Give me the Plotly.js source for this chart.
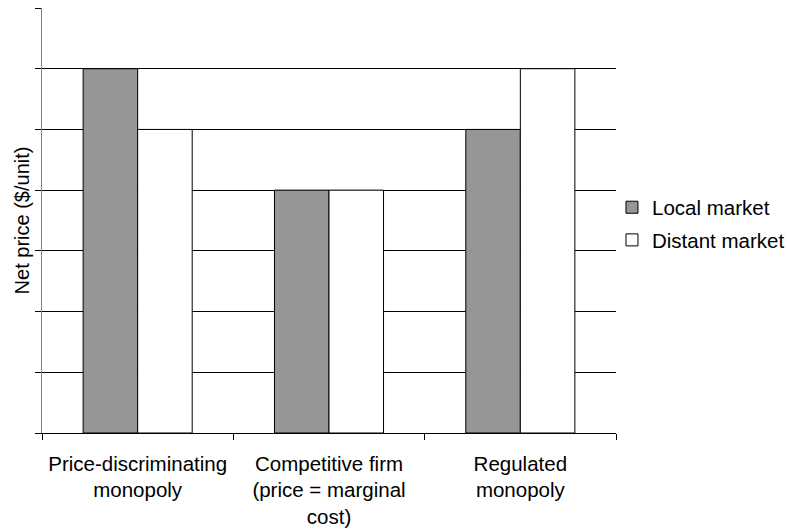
<!DOCTYPE html>
<html><head><meta charset="utf-8">
<script src="https://cdn.plot.ly/plotly-3.0.1.min.js"></script>
<style>html,body{margin:0;padding:0;background:#fff;}#chart{width:788px;height:529px;}</style>
</head><body><div id="chart"></div>
<script>
const categories = ["Price-discriminating<br>monopoly", "Competitive firm<br>(price = marginal<br>cost)", "Regulated<br>monopoly"];
const localValues = [6, 4, 5];
const distantValues = [5, 4, 6];
const seriesNames = ["Local market", "Distant market"];

const font = {family: "Liberation Sans, Arial, sans-serif", size: 20.5, color: "#000"};
const traces = [
  {type: "bar", name: seriesNames[0], x: categories, y: localValues, legendgroup: "a",
   marker: {color: "#969696", line: {color: "#000", width: 1}}},
  {type: "bar", name: seriesNames[1], x: categories, y: distantValues, legendgroup: "b",
   marker: {color: "#ffffff", line: {color: "#000", width: 1}}}
];
const layout = {
  width: 788, height: 529,
  margin: {l: 42, r: 172, t: 8, b: 96, autoexpand: false},
  paper_bgcolor: "#fff", plot_bgcolor: "#fff",
  font: font,
  barmode: "group", bargap: 0.43, bargroupgap: 0,
  showlegend: true,
  legend: {x: 0.993, y: 0.492, xanchor: "left", yanchor: "middle", font: font,
           bgcolor: "rgba(0,0,0,0)", itemwidth: 30, traceorder: "grouped", tracegroupgap: 3},
  xaxis: {type: "category", tickson: "boundaries", ticks: "outside", ticklen: 6,
          tickcolor: "#000", showline: true, linecolor: "#000", linewidth: 1,
          showgrid: false, tickfont: font, ticklabelstandoff: 12, fixedrange: true},
  yaxis: {range: [0, 7], dtick: 1, showticklabels: false, ticks: "outside", ticklen: 6,
          tickcolor: "#000", showline: true, linecolor: "#808080", linewidth: 1,
          showgrid: true, gridcolor: "#000", gridwidth: 1, zeroline: false,
          title: {text: "Net price ($/unit)", font: {family: font.family, size: 20, color: "#000"}, standoff: 0}, fixedrange: true}
};
Plotly.newPlot("chart", traces, layout, {displayModeBar: false, staticPlot: true});
</script></body></html>
